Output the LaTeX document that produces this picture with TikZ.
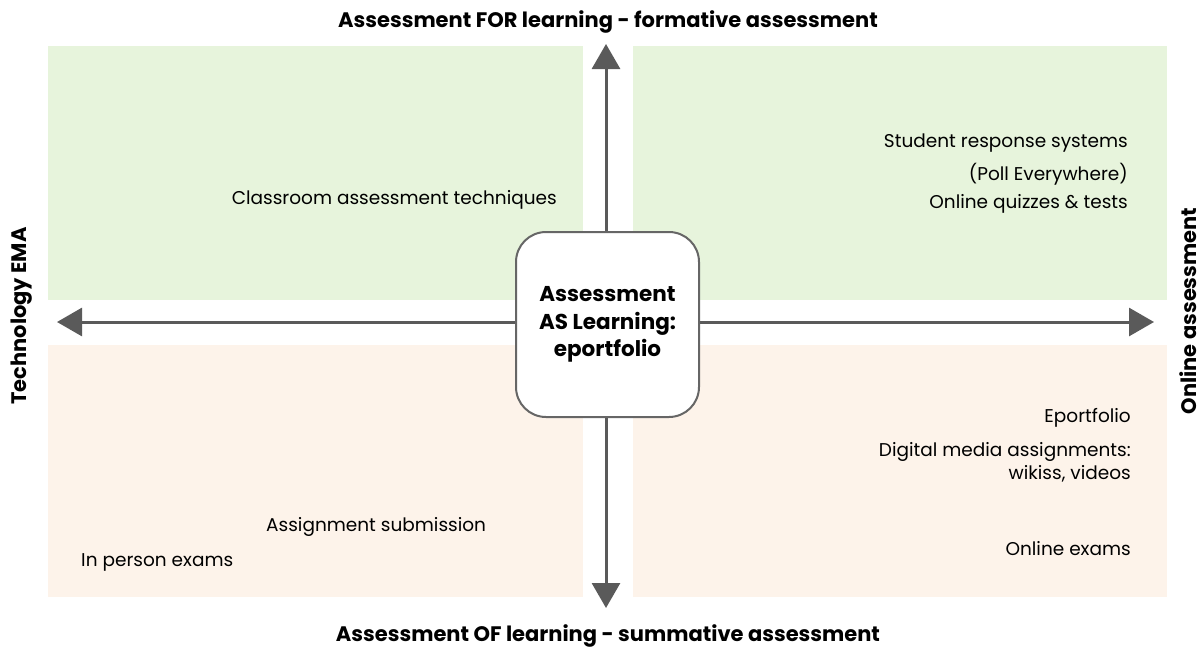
\documentclass[tikz,border=0pt]{standalone}
\usepackage{fontspec}
\setmainfont{Poppins}
\usetikzlibrary{arrows.meta}
\definecolor{qgreen}{HTML}{E7F4DC}
\definecolor{qpeach}{HTML}{FDF3EA}
\definecolor{arrowgray}{HTML}{5A5A5A}
\definecolor{boxgray}{HTML}{666666}
\tikzset{
  axisarrow/.style={draw=arrowgray, line width=3pt, -{Triangle[width=28pt,length=25pt]}},
  item/.style={font=\fontsize{18.5}{21}\selectfont, inner sep=0pt, text=black},
  title/.style={font=\bfseries\fontsize{21}{24}\selectfont, inner sep=0pt},
  centerbox/.style={draw=boxgray, line width=2pt, fill=white, rounded corners=30pt, minimum width=183pt, minimum height=185pt, align=center, font=\bfseries\fontsize{21.5}{27.5}\selectfont}
}
\begin{document}
\begin{tikzpicture}[x=1pt,y=-1pt]
\useasboundingbox (0,0) rectangle (1203,648);
\fill[qgreen] (48,46) rectangle (583,300);
\fill[qgreen] (633,46) rectangle (1167,300);
\fill[qpeach] (48,345) rectangle (583,597);
\fill[qpeach] (633,345) rectangle (1167,597);
\coordinate (top) at (606,44);
\coordinate (bot) at (606,608);
\coordinate (left) at (57,322);
\coordinate (right) at (1154,322);
\coordinate (cen) at (606,322);
\draw[axisarrow] (cen) -- (top);
\draw[axisarrow] (cen) -- (bot);
\draw[axisarrow] (cen) -- (left);
\draw[axisarrow] (cen) -- (right);
\node[centerbox] (center) at (607.5,324.5) {Assessment\\AS Learning:\\eportfolio};
\node[title] (ttop) at (608,22) {Assessment FOR learning - formative assessment};
\node[title] (tbot) at (608,636) {Assessment OF learning - summative assessment};
\node[title, rotate=90] (tleft) at (22,316) {Technology EMA};
\node[title, rotate=90] (tright) at (1188,311) {Online assessment};
\node[item, anchor=east] (cat) at (557,200) {Classroom assessment techniques};
\node[item, anchor=east] (srs) at (1128,143) {Student response systems};
\node[item, anchor=east] (poll) at (1128,174) {(Poll Everywhere)};
\node[item, anchor=east] (oqt) at (1128,204) {Online quizzes \& tests};
\node[item, anchor=east] (epf) at (1131,418) {Eportfolio};
\node[item, anchor=east] (dma) at (1131,452) {Digital media assignments:};
\node[item, anchor=east] (wik) at (1131,474) {wikiss, videos};
\node[item, anchor=east] (oex) at (1131,549) {Online exams};
\node[item, anchor=west] (asub) at (266,527) {Assignment submission};
\node[item, anchor=west] (ipe) at (81,562) {In person exams};
\end{tikzpicture}
\end{document}
